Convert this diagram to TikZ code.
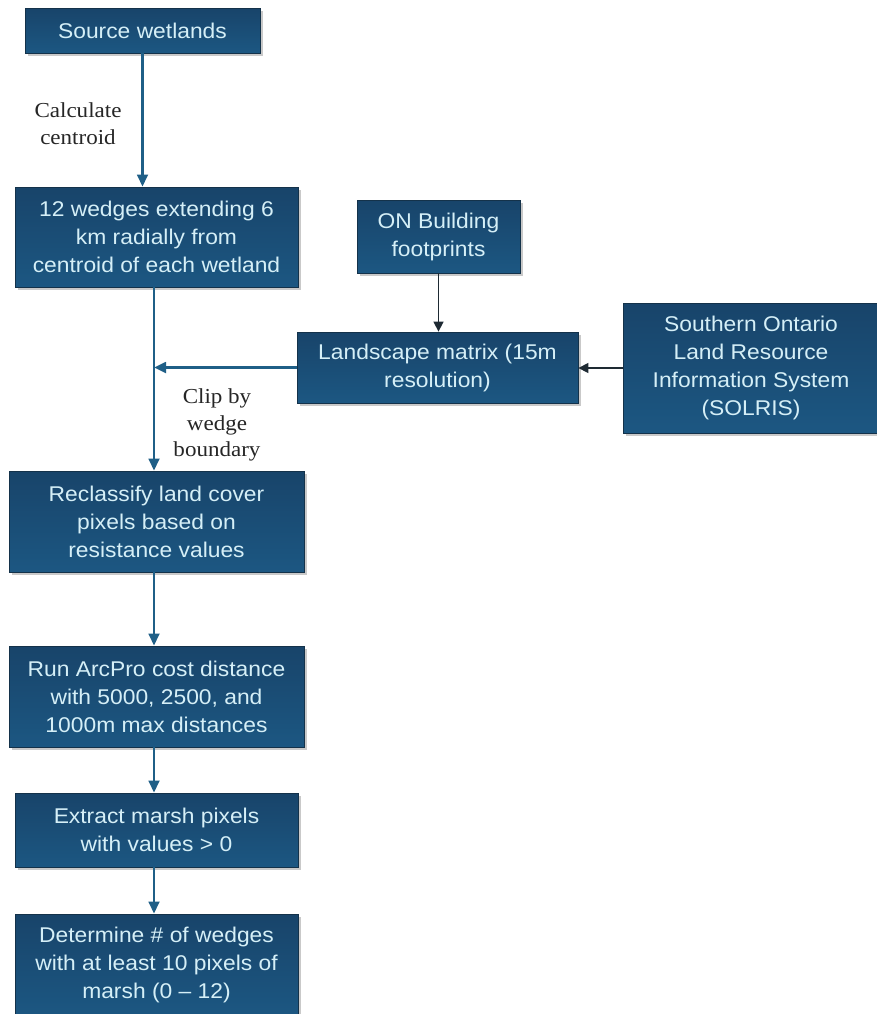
\documentclass[tikz,border=0pt]{standalone}
\usepackage{fontspec}
\setmainfont{Liberation Sans}
\newfontfamily\labelfont{Liberation Serif}
\usetikzlibrary{arrows.meta,shadows}

\definecolor{boxtop}{HTML}{18446A}
\definecolor{boxmid}{HTML}{216894}
\definecolor{boxbot}{HTML}{1C5782}
\definecolor{boxline}{HTML}{14324A}
\definecolor{boxtext}{HTML}{D5EFF7}
\definecolor{flowblue}{HTML}{1F5F87}
\definecolor{flowdark}{HTML}{1E2A33}

\tikzset{
  procbox/.style={
    draw=boxline, line width=0.6pt,
    top color=boxtop, middle color=boxmid, bottom color=boxbot,
    drop shadow={shadow xshift=2pt, shadow yshift=-2pt, opacity=0.35, fill=black!60},
    text=boxtext, align=center, inner sep=0pt,
    font=\addfontfeature{FakeStretch=1.07}\fontsize{16}{21}\selectfont
  },
  steplabel/.style={align=center, inner sep=0pt, text=black!85,
    font=\labelfont\addfontfeature{FakeStretch=1.08}\fontsize{16}{20}\selectfont},
  mainflow/.style={draw=flowblue, line width=2pt,
    -{Triangle[length=9pt,width=8pt]}},
  sideflow/.style={draw=flowdark, line width=1.1pt,
    -{Triangle[length=7.5pt,width=7.5pt]}}
}

\begin{document}
\begin{tikzpicture}[x=0.75pt,y=-0.75pt]
  \useasboundingbox (0,0) rectangle (877,1014);
  \clip (0,0) rectangle (877,1014);
  \fill[white] (0,0) rectangle (877,1014);

  % main column axis
  \coordinate (col) at (154,0);

  % process boxes
  \node[procbox, minimum width=176.25pt, minimum height=33.75pt] (src) at (142.5,30.5) {Source wetlands};
  \node[procbox, minimum width=212.25pt, minimum height=75pt] (wedge) at (156.5,237)
    {12 wedges extending 6\\km radially from\\centroid of each wetland};
  \node[procbox, minimum width=122.25pt, minimum height=54.75pt] (bldg) at (438.5,236.5)
    {ON Building\\footprints};
  \node[procbox, minimum width=210.75pt, minimum height=53.25pt] (land) at (437.5,367.5)
    {Landscape matrix (15m\\resolution)};
  \node[procbox, minimum width=192pt, minimum height=97.5pt] (solris) at (751,368)
    {Southern Ontario\\Land Resource\\Information System\\(SOLRIS)};
  \node[procbox, minimum width=221.25pt, minimum height=75.75pt] (recl) at (156.5,521.5)
    {Reclassify land cover\\pixels based on\\resistance values};
  \node[procbox, minimum width=221.25pt, minimum height=75.75pt] (cost) at (156.5,696.5)
    {Run ArcPro cost distance\\with 5000, 2500, and\\1000m max distances};
  \node[procbox, minimum width=212.25pt, minimum height=55.5pt] (marsh) at (156.5,830)
    {Extract marsh pixels\\with values \textgreater{} 0};
  \node[procbox, minimum width=212.25pt, minimum height=76.5pt] (count) at (156.5,965)
    {Determine \# of wedges\\with at least 10 pixels of\\marsh (0 – 12)};

  % step labels
  \node[steplabel] (lblcent) at (78,124) {Calculate\\centroid};
  \node[steplabel] (lblclip) at (217,425) {Clip by\\wedge\\boundary};

  % connectors
  \draw[mainflow] (src.south) -- (wedge.north -| src.south);
  \draw[mainflow] (wedge.south -| col) -- (recl.north -| col);
  \draw[mainflow] (land.west) -- (land.west -| col);
  \draw[mainflow] (recl.south -| col) -- (cost.north -| col);
  \draw[mainflow] (cost.south -| col) -- (marsh.north -| col);
  \draw[mainflow] (marsh.south -| col) -- (count.north -| col);
  \draw[sideflow] (bldg.south) -- (land.north -| bldg.south);
  \draw[sideflow] (solris.west) -- (land.east |- solris.west);
\end{tikzpicture}
\end{document}
